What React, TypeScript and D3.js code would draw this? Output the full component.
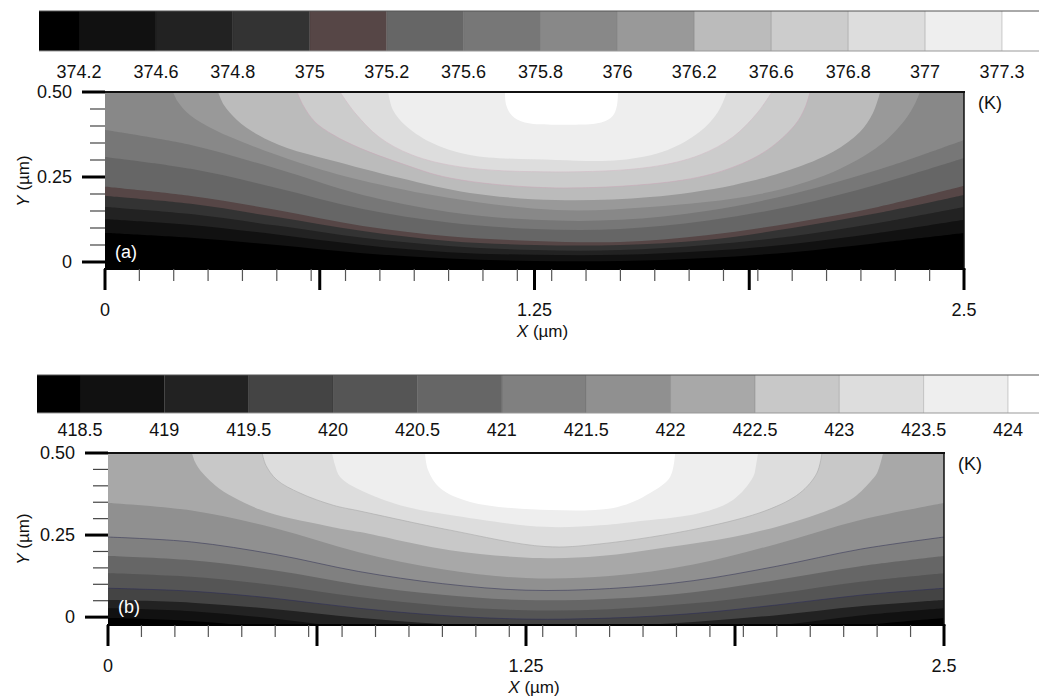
import * as d3 from "d3";

type Pt = [number, number];

// ---- panel (a) ----
const levelsA = [374.2, 374.6, 374.8, 375, 375.2, 375.6, 375.8, 376, 376.2, 376.6, 376.8, 377, 377.3];
const colorsA = ["#000000", "#111111", "#222222", "#333333", "#564646", "#666666", "#777777", "#888888",
  "#999999", "#bbbbbb", "#cccccc", "#dddddd", "#eeeeee", "#ffffff"];
// isolines (x, y in µm), one per level
const isolinesA: Pt[][] = [
  [[0, 0.085], [0.25, 0.071], [0.5, 0.05], [0.75, 0.026], [1.0, 0.01], [1.25, 0.003], [1.5, 0.003], [1.75, 0.012], [2.0, 0.029], [2.25, 0.056], [2.5, 0.085]],
  [[0, 0.126], [0.25, 0.109], [0.5, 0.081], [0.75, 0.05], [1.0, 0.029], [1.25, 0.021], [1.5, 0.021], [1.75, 0.032], [2.0, 0.053], [2.25, 0.085], [2.5, 0.124]],
  [[0, 0.162], [0.25, 0.141], [0.5, 0.107], [0.75, 0.071], [1.0, 0.047], [1.25, 0.035], [1.5, 0.035], [1.75, 0.05], [2.0, 0.076], [2.25, 0.115], [2.5, 0.162]],
  [[0, 0.194], [0.25, 0.171], [0.5, 0.132], [0.75, 0.091], [1.0, 0.062], [1.25, 0.05], [1.5, 0.05], [1.75, 0.065], [2.0, 0.1], [2.25, 0.144], [2.5, 0.197]],
  [[0, 0.221], [0.25, 0.194], [0.5, 0.153], [0.75, 0.106], [1.0, 0.076], [1.25, 0.062], [1.5, 0.059], [1.75, 0.079], [2.0, 0.115], [2.25, 0.162], [2.5, 0.224]],
  [[0, 0.309], [0.25, 0.274], [0.5, 0.218], [0.75, 0.156], [1.0, 0.116], [1.25, 0.097], [1.5, 0.097], [1.75, 0.121], [2.0, 0.165], [2.25, 0.229], [2.5, 0.306]],
  [[0, 0.388], [0.25, 0.344], [0.5, 0.274], [0.75, 0.197], [1.0, 0.147], [1.25, 0.124], [1.5, 0.124], [1.75, 0.15], [2.0, 0.2], [2.25, 0.271], [2.5, 0.359]],
  [[0.198, 0.5], [0.212, 0.471], [0.247, 0.432], [0.32, 0.388], [0.422, 0.344], [0.568, 0.291], [0.742, 0.241], [1.004, 0.188], [1.313, 0.153], [1.586, 0.162], [1.906, 0.2], [2.119, 0.265], [2.256, 0.344], [2.328, 0.418], [2.357, 0.465], [2.372, 0.5]],
  [[0.329, 0.5], [0.346, 0.462], [0.384, 0.418], [0.445, 0.374], [0.53, 0.335], [0.655, 0.3], [0.859, 0.247], [1.062, 0.203], [1.313, 0.182], [1.586, 0.191], [1.828, 0.226], [1.994, 0.271], [2.119, 0.324], [2.197, 0.382], [2.235, 0.438], [2.256, 0.5]],
  [[0.559, 0.5], [0.576, 0.462], [0.611, 0.412], [0.664, 0.374], [0.742, 0.335], [0.859, 0.291], [1.004, 0.247], [1.313, 0.218], [1.682, 0.241], [1.828, 0.279], [1.927, 0.329], [2.008, 0.403], [2.037, 0.453], [2.052, 0.5]],
  [[0.684, 0.5], [0.728, 0.438], [0.797, 0.368], [0.893, 0.315], [1.039, 0.279], [1.313, 0.265], [1.586, 0.279], [1.732, 0.315], [1.828, 0.368], [1.898, 0.438], [1.941, 0.5]],
  [[0.824, 0.5], [0.838, 0.447], [0.873, 0.403], [0.946, 0.353], [1.062, 0.315], [1.313, 0.3], [1.499, 0.3], [1.636, 0.329], [1.73, 0.382], [1.784, 0.441], [1.81, 0.5]],
  [[1.164, 0.5], [1.168, 0.46], [1.185, 0.43], [1.222, 0.41], [1.33, 0.404], [1.444, 0.41], [1.478, 0.43], [1.49, 0.46], [1.493, 0.5]],
];
// thin contour lines drawn on top of the bands: [level, colour]
const strokedA: [number, string][] = [[376.6, "#c9aab8"], [376.8, "#d2bcc6"]];

// ---- panel (b) ----
const levelsB = [418.5, 419, 419.5, 420, 420.5, 421, 421.5, 422, 422.5, 423, 423.5, 424];
const colorsB = ["#000000", "#111111", "#222222", "#444444", "#555555", "#666666", "#808080", "#909090",
  "#a8a8a8", "#c8c8c8", "#dddddd", "#eeeeee", "#ffffff"];
const isolinesB: Pt[][] = [
  [[0, -0.003], [0.25, -0.012], [0.5, -0.035], [0.75, -0.066], [1.0, -0.088], [1.25, -0.1], [1.5, -0.098], [1.75, -0.082], [2.0, -0.057], [2.25, -0.026], [2.5, -0.003]],
  [[0, 0.027], [0.25, 0.018], [0.5, -0.005], [0.75, -0.036], [1.0, -0.058], [1.25, -0.07], [1.5, -0.067], [1.75, -0.052], [2.0, -0.026], [2.25, 0.005], [2.5, 0.027]],
  [[0, 0.052], [0.25, 0.044], [0.5, 0.024], [0.75, -0.002], [1.0, -0.021], [1.25, -0.03], [1.5, -0.027], [1.75, -0.015], [2.0, 0.006], [2.25, 0.033], [2.5, 0.052]],
  [[0, 0.088], [0.25, 0.079], [0.5, 0.057], [0.75, 0.027], [1.0, 0.005], [1.25, -0.006], [1.5, -0.003], [1.75, 0.011], [2.0, 0.037], [2.25, 0.067], [2.5, 0.088]],
  [[0, 0.134], [0.25, 0.123], [0.5, 0.097], [0.75, 0.061], [1.0, 0.035], [1.25, 0.021], [1.5, 0.024], [1.75, 0.042], [2.0, 0.072], [2.25, 0.108], [2.5, 0.134]],
  [[0, 0.186], [0.25, 0.173], [0.5, 0.142], [0.75, 0.099], [1.0, 0.068], [1.25, 0.052], [1.5, 0.056], [1.75, 0.076], [2.0, 0.113], [2.25, 0.155], [2.5, 0.186]],
  [[0, 0.244], [0.25, 0.229], [0.5, 0.191], [0.75, 0.139], [1.0, 0.102], [1.25, 0.082], [1.5, 0.087], [1.75, 0.111], [2.0, 0.155], [2.25, 0.207], [2.5, 0.244]],
  [[0, 0.348], [0.25, 0.325], [0.5, 0.271], [0.75, 0.198], [1.0, 0.146], [1.25, 0.119], [1.5, 0.125], [1.75, 0.16], [2.0, 0.223], [2.25, 0.296], [2.5, 0.348]],
  [[0.251, 0.5], [0.26, 0.473], [0.275, 0.448], [0.32, 0.402], [0.374, 0.366], [0.475, 0.32], [0.673, 0.274], [0.754, 0.259], [1.023, 0.204], [1.292, 0.18], [1.471, 0.186], [1.672, 0.213], [1.869, 0.244], [2.069, 0.296], [2.219, 0.357], [2.279, 0.412], [2.3, 0.439], [2.318, 0.5]],
  [[0.461, 0.5], [0.472, 0.463], [0.505, 0.418], [0.574, 0.378], [0.673, 0.341], [0.754, 0.323], [1.023, 0.265], [1.307, 0.215], [1.471, 0.223], [1.77, 0.271], [1.971, 0.326], [2.069, 0.378], [2.12, 0.439], [2.135, 0.5]],
  [[0.67, 0.5], [0.679, 0.463], [0.694, 0.427], [0.754, 0.387], [0.873, 0.341], [1.023, 0.311], [1.307, 0.275], [1.471, 0.28], [1.57, 0.29], [1.77, 0.317], [1.869, 0.357], [1.929, 0.427], [1.938, 0.463], [1.944, 0.5]],
  [[0.948, 0.5], [0.957, 0.448], [0.993, 0.393], [1.083, 0.351], [1.322, 0.326], [1.522, 0.335], [1.621, 0.378], [1.681, 0.427], [1.696, 0.5]],
];
const strokedB: [number, string][] = [[420, "#2e2e58"], [421.5, "#3a3a5a"], [423, "#a9a9a9"]];

// axes
const xMajorTicks = [0, 0.625, 1.25, 1.875, 2.5];
const xTickLabels = ["0", "", "1.25", "", "2.5"];
const yMajorTicks = [0, 0.25, 0.5];
const yTickLabels = ["0", "0.25", "0.50"];

const FONT = "'Liberation Sans', Arial, Helvetica, sans-serif";

function Panel({ id, tag, levels, colors, lines, stroked, lay }: any) {
  const x = d3.scaleLinear().domain([0, 2.5]).range([lay.left, lay.right]);
  const y = d3.scaleLinear().domain([lay.yMin, 0.5]).range([lay.bottom, lay.top]);
  const curve = d3.curveCatmullRom.alpha(0.5);
  const band = d3.area<Pt>().x(d => x(d[0])).y0(lay.top - 3).y1(d => y(d[1])).curve(curve);
  const iso = d3.line<Pt>().x(d => x(d[0])).y(d => y(d[1])).curve(curve);

  // colour bar: labels sit on the boundaries between swatches
  const cb = d3.scaleLinear().domain([0, levels.length - 1]).range([lay.cbFirst, lay.cbLast]);
  const segs = colors.map((c: string, i: number) => ({
    c,
    a: i === 0 ? lay.cbStart : cb(i - 1),
    b: i === colors.length - 1 ? 1039 : cb(i),
  }));

  const xMinor = x.ticks(20).filter(t => !xMajorTicks.includes(t));
  const yMinor = d3.range(0.05, 0.5, 0.05).filter(t => Math.abs(t - 0.25) > 1e-6);
  const clipId = `clip-${id}`;

  return (
    <g>
      {/* colour bar */}
      {segs.map((s: any, i: number) => (
        <rect key={i} x={s.a} y={lay.cbTop} width={s.b - s.a} height={lay.cbH} fill={s.c} />
      ))}
      {levels.map((_: number, i: number) => (
        <line key={i} x1={cb(i)} x2={cb(i)} y1={lay.cbTop} y2={lay.cbTop + lay.cbH} stroke="#000" strokeOpacity={0.18} />
      ))}
      <line x1={lay.cbStart} x2={1039} y1={lay.cbTop} y2={lay.cbTop} stroke="#555" strokeWidth={1} />
      <line x1={lay.cbStart} x2={1039} y1={lay.cbTop + lay.cbH} y2={lay.cbTop + lay.cbH} stroke="#999" strokeWidth={1} />
      {levels.map((v: number, i: number) => (
        <text key={i} x={cb(i)} y={lay.cbLabelY} textAnchor="middle" fontSize={18} fill="#111">{String(v)}</text>
      ))}

      {/* contour bands */}
      <clipPath id={clipId}>
        <rect x={lay.left} y={lay.top} width={lay.right - lay.left} height={lay.bottom - lay.top} />
      </clipPath>
      <g clipPath={`url(#${clipId})`}>
        <rect x={lay.left} y={lay.top} width={lay.right - lay.left} height={lay.bottom - lay.top} fill={colors[0]} />
        {lines.map((pts: Pt[], i: number) => (
          <path key={i} d={band(pts) || ""} fill={colors[i + 1]} />
        ))}
        {stroked.map(([lv, col]: [number, string]) => {
          const i = levels.indexOf(lv);
          return <path key={`s${lv}`} d={iso(lines[i]) || ""} fill="none" stroke={col} strokeWidth={0.8} strokeOpacity={0.75} />;
        })}
      </g>

      {/* frame */}
      <line x1={lay.left} x2={lay.right + 1} y1={lay.top} y2={lay.top} stroke="#111" strokeWidth={2} />
      <line x1={lay.right} x2={lay.right} y1={lay.top} y2={lay.bottom} stroke="#111" strokeWidth={1.5} />
      <line x1={lay.left - 1} x2={lay.right + 1.5} y1={lay.bottom} y2={lay.bottom} stroke="#000" strokeWidth={2} />

      {/* y axis */}
      {yMajorTicks.map((t, i) => (
        <g key={i}>
          <line x1={lay.left - 23} x2={lay.left} y1={y(t)} y2={y(t)} stroke="#000" strokeWidth={3} />
          <text x={lay.left - 33} y={y(t) + 6} textAnchor="end" fontSize={18} fill="#111">{yTickLabels[i]}</text>
        </g>
      ))}
      {yMinor.map((t, i) => (
        <line key={i} x1={lay.left - 15} x2={lay.left} y1={y(t)} y2={y(t)} stroke="#444" strokeWidth={1.2} />
      ))}
      <text transform={`translate(29,${y(0.25) + 4}) rotate(-90)`} textAnchor="middle" fontSize={17} fill="#111">
        <tspan fontStyle="italic">Y</tspan> (µm)
      </text>

      {/* x axis */}
      {xMajorTicks.map((t, i) => (
        <g key={i}>
          <line x1={x(t)} x2={x(t)} y1={lay.bottom} y2={lay.bottom + 21} stroke="#000" strokeWidth={3} />
          {xTickLabels[i] && (
            <text x={x(t)} y={lay.bottom + 47} textAnchor="middle" fontSize={18} fill="#111">{xTickLabels[i]}</text>
          )}
        </g>
      ))}
      {xMinor.map((t, i) => (
        <line key={i} x1={x(t)} x2={x(t)} y1={lay.bottom} y2={lay.bottom + 12} stroke="#555" strokeWidth={1.2} />
      ))}
      <text x={x(1.25) + 8} y={lay.bottom + 68} textAnchor="middle" fontSize={17} fill="#111">
        <tspan fontStyle="italic">X</tspan> (µm)
      </text>

      <text x={lay.left + 10} y={lay.tagY} fontSize={18} fill="#fff">{tag}</text>
      <text x={lay.right + 14} y={lay.top + 17} fontSize={18} fill="#111">(K)</text>
    </g>
  );
}

export default function App() {
  const layA = {
    cbStart: 39, cbFirst: 79, cbLast: 1002, cbTop: 11, cbH: 40, cbLabelY: 78,
    left: 105, right: 964, top: 92, bottom: 269, yMin: -0.0206, tagY: 258,
  };
  const layB = {
    cbStart: 37, cbFirst: 80, cbLast: 1008, cbTop: 375, cbH: 38, cbLabelY: 436,
    left: 108, right: 944, top: 453, bottom: 625, yMin: -0.024, tagY: 613,
  };
  return (
    <svg width={1039} height={699} fontFamily={FONT}
      style={{ position: "absolute", left: 0, top: 0, background: "#fff", display: "block" }}>
      <Panel id="a" tag="(a)" levels={levelsA} colors={colorsA} lines={isolinesA} stroked={strokedA} lay={layA} />
      <Panel id="b" tag="(b)" levels={levelsB} colors={colorsB} lines={isolinesB} stroked={strokedB} lay={layB} />
    </svg>
  );
}
